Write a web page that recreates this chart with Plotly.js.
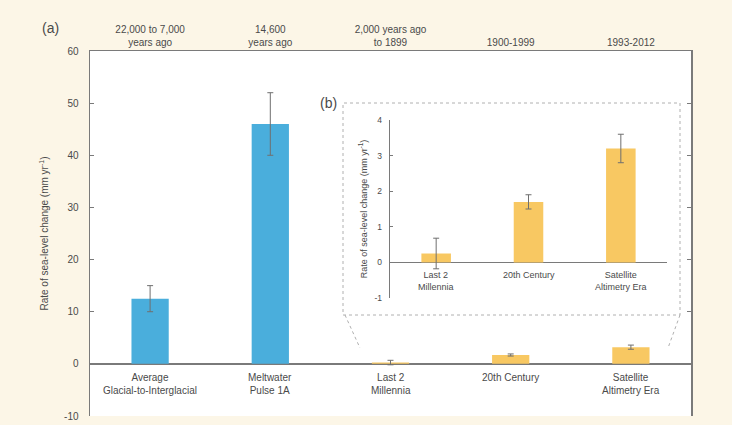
<!DOCTYPE html>
<html>
<head>
<meta charset="utf-8">
<script src="https://cdn.plot.ly/plotly-3.0.1.min.js"></script>
<style>html,body{margin:0;padding:0;background:#fcf6e7;}#chart{width:732px;height:425px;}</style>
</head>
<body>
<div id="chart"></div>
<script>
// ---- data ----
const categories = ['Average<br>Glacial-to-Interglacial', 'Meltwater<br>Pulse 1A', 'Last 2<br>Millennia', '20th Century', 'Satellite<br>Altimetry Era'];
const periods = ['22,000 to 7,000<br>years ago', '14,600<br>years ago', '2,000 years ago<br>to 1899', '1900-1999', '1993-2012'];
const rates = [12.5, 46, 0.25, 1.7, 3.2];
const rateErrors = [2.5, 6, 0.43, 0.2, 0.4];
const paleoIdx = [0, 1];
const instrIdx = [2, 3, 4];
const yTicksMain = [-10, 0, 10, 20, 30, 40, 50, 60];
const yTicksInset = [-1, 0, 1, 2, 3, 4];

const BLUE = '#4aaedc', YELLOW = '#f8c862', ERR = '#6f6f6f', TXT = '#4a4a4a';
const FONT = 'Liberation Sans, Arial, sans-serif';

const pos = categories.map((_, i) => i);
function pick(arr, idx) { return idx.map(i => arr[i]); }

const traces = [
  {type: 'bar', x: pick(pos, paleoIdx), y: pick(rates, paleoIdx), width: 0.31,
   marker: {color: BLUE}, error_y: {type: 'data', array: pick(rateErrors, paleoIdx), color: ERR, thickness: 1, width: 3},
   xaxis: 'x', yaxis: 'y', hoverinfo: 'skip'},
  {type: 'bar', x: pick(pos, instrIdx), y: pick(rates, instrIdx), width: 0.31,
   marker: {color: YELLOW}, error_y: {type: 'data', array: pick(rateErrors, instrIdx), color: ERR, thickness: 1, width: 3},
   xaxis: 'x', yaxis: 'y', hoverinfo: 'skip'},
  {type: 'bar', x: instrIdx.map((_, i) => i), y: pick(rates, instrIdx), width: 0.32,
   marker: {color: YELLOW}, error_y: {type: 'data', array: pick(rateErrors, instrIdx), color: ERR, thickness: 1, width: 3},
   xaxis: 'x2', yaxis: 'y2', hoverinfo: 'skip'}
];

const W = 732, H = 425;
const px = v => v / W, py = v => 1 - v / H;

const annotations = [];
categories.forEach((c, i) => annotations.push({
  x: i, y: 0, xref: 'x', yref: 'y', text: c, showarrow: false, xanchor: 'center', yanchor: 'top', yshift: -6,
  font: {family: FONT, size: 10, color: TXT}, align: 'center'
}));
instrIdx.forEach((ci, i) => annotations.push({
  x: i, y: 0, xref: 'x2', yref: 'y2', text: categories[ci], showarrow: false, xanchor: 'center', yanchor: 'top', yshift: -6,
  font: {family: FONT, size: 9, color: TXT}, align: 'center'
}));
annotations.push({x: px(51), y: py(28), xref: 'paper', yref: 'paper', text: '(a)', showarrow: false,
  xanchor: 'center', yanchor: 'middle', font: {family: FONT, size: 14, color: TXT}});
annotations.push({x: px(328), y: py(103), xref: 'paper', yref: 'paper', text: '(b)', showarrow: false,
  xanchor: 'center', yanchor: 'middle', font: {family: FONT, size: 14, color: TXT}});

const shapes = [
  {type: 'rect', xref: 'paper', yref: 'paper', x0: px(343), x1: px(680), y0: py(315), y1: py(103),
   line: {color: '#b0b0b0', width: 1, dash: 'dot'}},
  {type: 'line', xref: 'paper', yref: 'paper', x0: px(345), y0: py(315), x1: px(360), y1: py(348),
   line: {color: '#b0b0b0', width: 1, dash: 'dot'}},
  {type: 'line', xref: 'paper', yref: 'paper', x0: px(680), y0: py(315), x1: px(668), y1: py(348),
   line: {color: '#b0b0b0', width: 1, dash: 'dot'}}
];

const layout = {
  width: W, height: H,
  margin: {l: 0, r: 0, t: 0, b: 0},
  paper_bgcolor: '#fcf6e7', plot_bgcolor: '#ffffff',
  showlegend: false, barmode: 'overlay',
  font: {family: FONT, color: TXT},
  xaxis: {domain: [px(90), px(691)], range: [-0.5, 4.5], side: 'top', showline: true, linecolor: '#7a7a7a', linewidth: 1.5,
    tickvals: pos, ticktext: periods, ticks: '', showgrid: false, zeroline: false,
    tickfont: {family: FONT, size: 10, color: TXT}, anchor: 'y', fixedrange: true},
  yaxis: {domain: [py(416), py(51)], range: [-10, 60], tickvals: yTicksMain, ticktext: yTicksMain.map(String),
    ticks: 'inside', ticklen: 4, tickcolor: '#7a7a7a',
    showline: true, linecolor: '#7a7a7a', linewidth: 1.5, mirror: 'ticks', showgrid: false,
    zeroline: true, zerolinecolor: '#7a7a7a', zerolinewidth: 1.5, ticklabelstandoff: 8,
    tickfont: {family: FONT, size: 10, color: TXT},
    title: {text: 'Rate of sea-level change (mm yr<sup>-1</sup>)', font: {family: FONT, size: 10, color: TXT}, standoff: 13},
    anchor: 'x', fixedrange: true},
  xaxis2: {domain: [px(390), px(667)], range: [-0.5, 2.5], showline: false, ticks: '', showticklabels: false,
    showgrid: false, zeroline: false, anchor: 'y2', fixedrange: true},
  yaxis2: {domain: [py(298), py(120)], range: [-1, 4], tickvals: yTicksInset, ticktext: yTicksInset.map(String),
    ticks: 'inside', ticklen: 3, tickcolor: '#7a7a7a',
    showline: true, linecolor: '#7a7a7a', linewidth: 1.2, showgrid: false,
    zeroline: true, zerolinecolor: '#7a7a7a', zerolinewidth: 1.2, ticklabelstandoff: 5,
    tickfont: {family: FONT, size: 8.5, color: TXT},
    title: {text: 'Rate of sea-level change (mm yr<sup>-1</sup>)', font: {family: FONT, size: 9, color: TXT}, standoff: 5},
    anchor: 'x2', fixedrange: true},
  annotations: annotations,
  shapes: shapes
};

Plotly.newPlot('chart', traces, layout, {displayModeBar: false, staticPlot: true});
</script>
</body>
</html>
